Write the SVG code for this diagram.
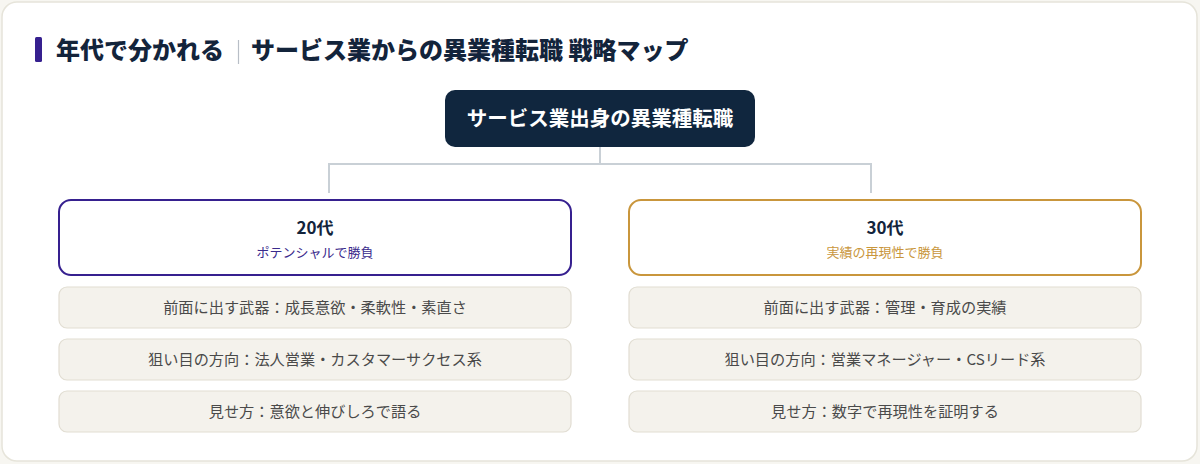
<svg xmlns="http://www.w3.org/2000/svg" width="1200" height="464" viewBox="0 0 1200 464">
<style>
text{font-family:"Noto Sans CJK JP","Noto Sans",sans-serif;}
.title{font-size:24px;font-weight:800;fill:#13243b;}
.root{font-size:20.5px;font-weight:700;fill:#ffffff;}
.age{font-size:17px;font-weight:700;fill:#13243b;}
.sub{font-size:13px;}
.item{fill:#f4f2ec;stroke:#e1ddd2;stroke-width:1.2;}
.itxt{font-size:15.2px;fill:#4a4a4a;}
.conn{fill:none;stroke:#c9d0d6;stroke-width:2;}
</style>
<rect x="0" y="0" width="1200" height="464" fill="#f7f6f1"/>
<rect x="2" y="2" width="1195" height="459" rx="15" fill="#ffffff" stroke="#e6e4da" stroke-width="1.5"/>
<g id="title">
<rect x="35" y="37" width="7" height="25" rx="1.5" fill="#36208f"/>
<text class="title" x="56" y="59">年代で分かれる</text>
<line x1="238.5" y1="40" x2="238.5" y2="64" stroke="#b8bec6" stroke-width="1.2"/>
<text class="title" x="251" y="59">サービス業からの異業種転職 戦略マップ</text>
</g>
<g id="connectors">
<path class="conn" d="M600 147 V164 M329 193 V164 H871 V193"/>
</g>
<g id="root">
<rect x="445" y="90" width="310" height="57" rx="10" fill="#10263e"/>
<text class="root" x="600" y="126" text-anchor="middle">サービス業出身の異業種転職</text>
</g>
<g id="age20">
<rect x="59" y="200" width="512" height="75" rx="12" fill="#ffffff" stroke="#36208f" stroke-width="2"/>
<text class="age" x="315" y="234" text-anchor="middle">20代</text>
<text class="sub" x="315" y="257" text-anchor="middle" fill="#3a2a8c">ポテンシャルで勝負</text>
</g>
<g id="age30">
<rect x="629" y="200" width="512" height="75" rx="12" fill="#ffffff" stroke="#c9963c" stroke-width="2"/>
<text class="age" x="885" y="234" text-anchor="middle">30代</text>
<text class="sub" x="885" y="257" text-anchor="middle" fill="#c9963c">実績の再現性で勝負</text>
</g>
<g id="l1"><rect class="item" x="59" y="287" width="512" height="41" rx="8"/><text class="itxt" x="315" y="313" text-anchor="middle">前面に出す武器：成長意欲・柔軟性・素直さ</text></g>
<g id="l2"><rect class="item" x="59" y="339" width="512" height="41" rx="8"/><text class="itxt" x="315" y="365" text-anchor="middle">狙い目の方向：法人営業・カスタマーサクセス系</text></g>
<g id="l3"><rect class="item" x="59" y="391" width="512" height="41" rx="8"/><text class="itxt" x="315" y="417" text-anchor="middle">見せ方：意欲と伸びしろで語る</text></g>
<g id="r1"><rect class="item" x="629" y="287" width="512" height="41" rx="8"/><text class="itxt" x="885" y="313" text-anchor="middle">前面に出す武器：管理・育成の実績</text></g>
<g id="r2"><rect class="item" x="629" y="339" width="512" height="41" rx="8"/><text class="itxt" x="885" y="365" text-anchor="middle">狙い目の方向：営業マネージャー・CSリード系</text></g>
<g id="r3"><rect class="item" x="629" y="391" width="512" height="41" rx="8"/><text class="itxt" x="885" y="417" text-anchor="middle">見せ方：数字で再現性を証明する</text></g>
</svg>
